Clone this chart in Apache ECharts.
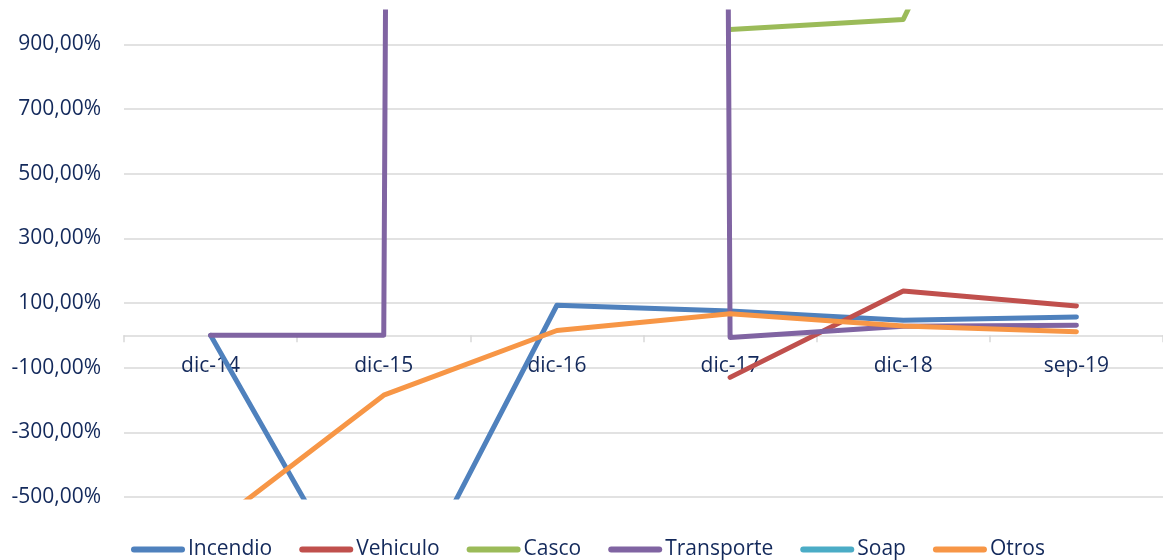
<!DOCTYPE html>
<html>
<head>
<meta charset="utf-8">
<title>Variación por ramo</title>
<script src="https://cdn.jsdelivr.net/npm/echarts@6/dist/echarts.min.js"></script>
<style>
    html, body { margin: 0; padding: 0; background: #fff; }
    #chart { width: 1163px; height: 560px; }
</style>
</head>
<body>
<div id="chart"></div>
<script>
// periodos
const categories = ['dic-14', 'dic-15', 'dic-16', 'dic-17', 'dic-18', 'sep-19'];

// variación en % por ramo (valores fuera de escala estimados por la pendiente)
const incendio   = [0, -940, 93, 75, 47, 57];
const vehiculo   = [null, null, null, -130, 137, 91];
const casco      = [null, null, null, 946, 977, 2100];
const transporte = [0, 0, 100000, -7, 28, 31];
const soap       = [null, null, null, null, null, null];
const otros      = [-595, -185, 15, 67, 29, 11];

const seriesNames  = ['Incendio', 'Vehiculo', 'Casco', 'Transporte', 'Soap', 'Otros'];
const seriesData   = [incendio, vehiculo, casco, transporte, soap, otros];
const seriesColors = ['#4f81bd', '#c0504d', '#9bbb59', '#8064a2', '#4bacc6', '#f79646'];

const textColor = '#13295b';
const gridColor = '#d9d9d9';
const fontFamily = '"Open Sans", sans-serif';

const yMin = -500;
const yMax = 1000;
const gridTop = 12;
const gridHeight = 485;

var myChart = echarts.init(document.getElementById('chart'));

// el eje de categorías va sobre el 0: se sube desde el borde inferior
const zeroOffset = -gridHeight * (0 - yMin) / (yMax - yMin);

let option = {
    animation: false,
    color: seriesColors,
    textStyle: { fontFamily: fontFamily },
    grid: {
        left: 124,
        top: gridTop,
        right: -6,
        height: gridHeight
    },
    legend: {
        top: 539,
        left: 131,
        padding: 0,
        itemWidth: 54,
        itemHeight: 6,
        itemGap: 27,
        icon: 'path://M3,0 L51,0 A3,3 0 0 1 51,6 L3,6 A3,3 0 0 1 3,0 Z',
        textStyle: { fontSize: 21, color: textColor, fontFamily: fontFamily, padding: [0, 0, 0, -2] },
        data: seriesNames
    },
    xAxis: {
        type: 'category',
        data: categories,
        boundaryGap: true,
        position: 'bottom',
        offset: zeroOffset,
        axisLine: { onZero: false, lineStyle: { color: gridColor, width: 1.5 } },
        axisTick: { show: true, length: 7, lineStyle: { color: gridColor, width: 1.5 } },
        axisLabel: { color: textColor, fontSize: 21, margin: 20, fontFamily: fontFamily },
        splitLine: { show: false }
    },
    yAxis: {
        type: 'value',
        min: yMin,
        max: yMax,
        interval: 200,
        axisLine: { show: false },
        axisTick: { show: false },
        axisLabel: {
            color: textColor,
            fontSize: 21,
            margin: 23,
            fontFamily: fontFamily,
            showMaxLabel: false,
            formatter: function (v) {
                return v.toFixed(2).replace('.', ',') + '%';
            }
        },
        splitLine: {
            show: true,
            showMaxLine: false,
            lineStyle: { color: gridColor, width: 1.5 }
        }
    },
    series: seriesNames.map(function (name, i) {
        return {
            name: name,
            type: 'line',
            data: seriesData[i],
            symbol: 'none',
            clip: true,
            connectNulls: false,
            lineStyle: { width: 5, color: seriesColors[i], cap: 'round', join: 'round' },
            itemStyle: { color: seriesColors[i] }
        };
    })
};

myChart.setOption(option);
</script>
</body>
</html>
